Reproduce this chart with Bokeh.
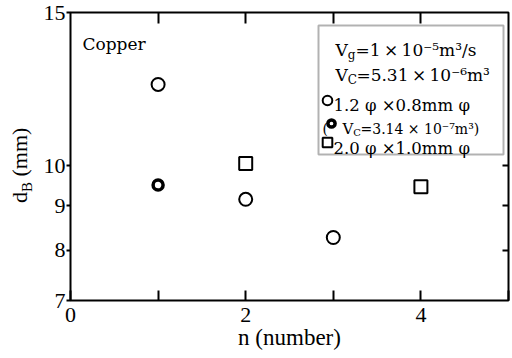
import math
from bokeh.plotting import figure
from bokeh.layouts import row
from bokeh.models import (Range1d, FixedTicker, LinearAxis, LogAxis, Label,
                          Legend, LegendItem, BoxAnnotation, Div)
from bokeh.embed import file_html
from bokeh.resources import INLINE

# ---- data ----
circle_n = [1, 2, 3]
circle_d = [12.4, 9.15, 8.27]
thick_circle_n = [1]
thick_circle_d = [9.5]
square_n = [2, 4]
square_d = [10.06, 9.46]

x_ticks = [0, 1, 2, 3, 4, 5]
x_tick_labels = {1: "", 3: "", 5: ""}
top_ticks = [1, 2, 3, 4]
y_ticks = [7, 8, 9, 10, 15]
y_right_ticks = [8, 9, 10]

SERIF = "Liberation Serif"
LEG = "DejaVu Serif"
TS = "\u2009"  # thin space

p = figure(width=472, height=358, x_range=Range1d(0, 5), y_range=Range1d(7, 15),
           y_axis_type="log", output_backend="svg", toolbar_location=None,
           min_border_left=30, min_border_right=4, min_border_top=12,
           min_border_bottom=58, margin=0)
p.xgrid.visible = False
p.ygrid.visible = False
p.outline_line_color = "black"
p.outline_line_width = 2
p.background_fill_color = "white"
p.border_fill_color = "white"

def style_axis(ax, ticks, tin, tout, labels=True):
    ax.ticker = FixedTicker(ticks=ticks)
    ax.axis_line_color = None
    ax.major_tick_in = tin
    ax.major_tick_out = tout
    ax.major_tick_line_width = 2
    ax.major_tick_line_color = "black"
    ax.minor_tick_line_color = None
    ax.major_label_text_font = SERIF
    ax.major_label_text_font_size = "22px"
    ax.major_label_text_color = "black"
    if not labels:
        ax.major_label_text_color = None

xb = p.xaxis[0]
style_axis(xb, x_ticks, 10, 0)
xb.major_label_overrides = x_tick_labels
xb.major_label_standoff = 7
xb.axis_label = "n (number)"
xb.axis_label_text_font = SERIF
xb.axis_label_text_font_size = "23px"
xb.axis_label_text_font_style = "normal"
xb.axis_label_text_color = "black"
xb.axis_label_standoff = 0

yl = p.yaxis[0]
style_axis(yl, y_ticks, 0, 4)
yl.major_label_overrides = {t: str(t) for t in y_ticks}
yl.major_label_standoff = 1

xt = LinearAxis()
style_axis(xt, top_ticks, 11, 0, labels=False)
p.add_layout(xt, "above")

yr = LogAxis()
style_axis(yr, y_right_ticks, 6, 0, labels=False)
p.add_layout(yr, "right")

# ---- data marks ----
r_circ = p.scatter(circle_n, circle_d, marker="circle", size=13,
                   fill_color=None, line_color="black", line_width=2)
r_thick = p.scatter(thick_circle_n, thick_circle_d, marker="circle", size=10,
                    fill_color=None, line_color="black", line_width=3.5)
r_sq = p.scatter(square_n, square_d, marker="square", size=13,
                 fill_color=None, line_color="black", line_width=2)

# ---- legend box ----
p.add_layout(BoxAnnotation(left=248, right=433, top=275, bottom=146,
                           left_units="screen", right_units="screen",
                           top_units="screen", bottom_units="screen",
                           fill_color="white", fill_alpha=1,
                           line_color="black", line_width=2))

def lab(fig, x, y, text, size, font=LEG, angle=0, align="left"):
    fig.add_layout(Label(x=x, y=y, x_units="screen", y_units="screen",
                         text=text, text_font=font, text_font_size=f"{size}px",
                         text_color="black", text_align=align,
                         text_baseline="alphabetic", angle=angle))

# line 1: Vg = 1 x 10^-5 m^3/s
lab(p, 265, 251, "V", 17)
lab(p, 277.3, 246, "g", 12)
lab(p, 285, 251, f"=1{TS}×{TS}10⁻⁵m³/s", 17)
# line 2: VC = 5.31 x 10^-6 m^3
lab(p, 265, 226, "V", 17)
lab(p, 277.3, 221, "C", 12)
lab(p, 285.9, 226, f"=5.31{TS}×{TS}10⁻⁶m³", 17)
# line 3 / 5 texts
lab(p, 263, 195, "1.2 φ ×0.8mm φ", 16.5)
lab(p, 263, 152, "2.0 φ ×1.0mm φ", 16.5)
# line 4: ( O VC = 3.14 x 10^-7 m^3 )
lab(p, 252, 172, "(", 14)
lab(p, 272, 172, "V", 15)
lab(p, 282.8, 168, "C", 10)
lab(p, 290, 172, "=3.14 × 10⁻⁷m³)", 14)

def one_legend(r, center, g):
    lg = Legend(items=[LegendItem(label=" ", renderers=[r])],
                location=(center[0] - g / 2, center[1] - g / 2),
                glyph_width=g, glyph_height=g, label_height=g, label_width=1,
                label_standoff=0, padding=0, margin=0, spacing=0,
                border_line_color=None, background_fill_alpha=0,
                label_text_font_size="8px")
    p.add_layout(lg)

one_legend(r_circ, (257, 200), 24)
one_legend(r_thick, (261, 177), 18)
one_legend(r_sq, (257, 158), 24)

lab(p, 12, 257, "Copper", 17)

# ---- y-axis title (with subscript) beside the plot ----
ytitle = Div(width=40, height=358, margin=0, text=(
    '<div style="position:relative;width:40px;height:358px;">'
    '<span style="position:absolute;left:7px;top:203px;transform-origin:0 0;'
    'transform:rotate(-90deg);white-space:nowrap;font-family:\'Liberation Serif\';'
    'font-size:22px;line-height:25px;color:black;">'
    'd<sub style="font-size:15px;line-height:0;">B</sub> (mm)</span></div>'))

layout = row(ytitle, p, spacing=0)
open("out.html", "w").write(file_html(layout, INLINE))
